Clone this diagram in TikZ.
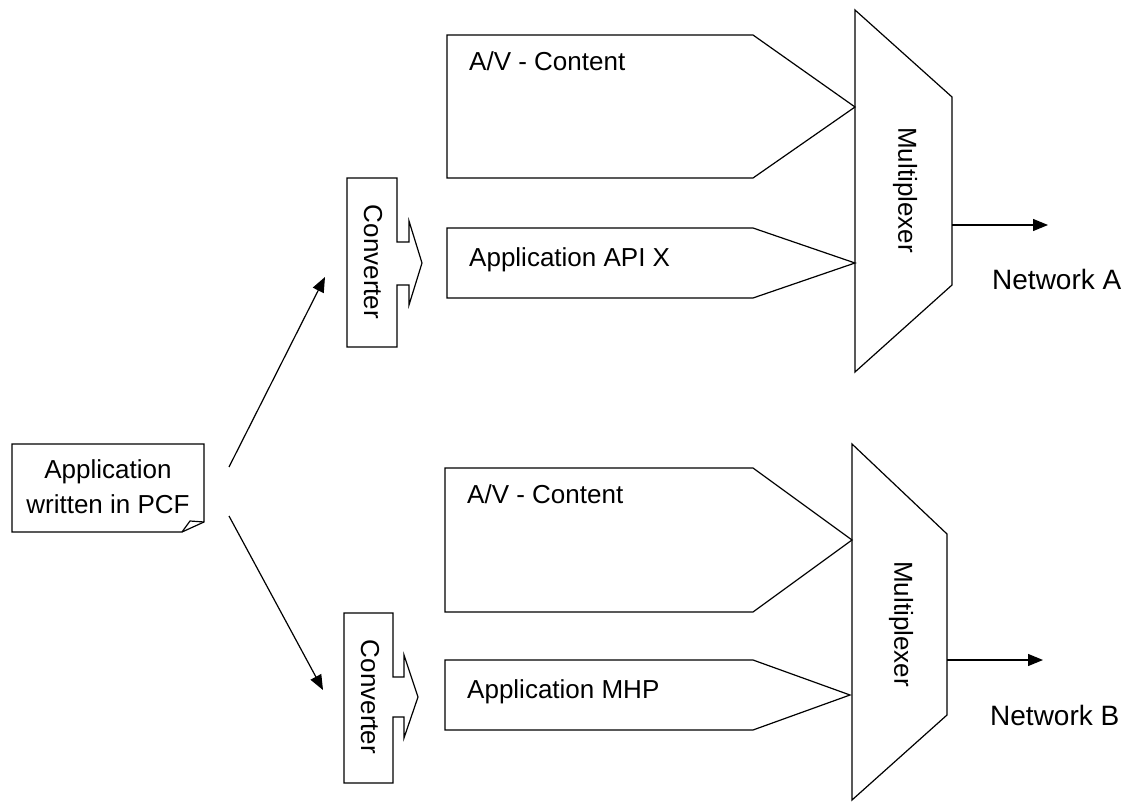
\documentclass[tikz,border=0pt]{standalone}
\usepackage{fontspec}
\setmainfont{Liberation Sans}
\usetikzlibrary{arrows.meta}
\begin{document}
\begin{tikzpicture}[x=1pt,y=-1pt,
  outline/.style={draw=black, line width=1.2pt, line join=miter},
  lbl/.style={font=\fontsize{26}{35}\selectfont, inner sep=0pt},
  netlbl/.style={font=\fontsize{28}{34}\selectfont, inner sep=0pt, anchor=west},
  arr/.style={draw=black, line width=1.2pt, -{Triangle[length=15pt,width=12pt]}}]
\useasboundingbox (0,0) rectangle (1133,802);

% source document with a curled corner
\draw[outline] (12,444) -- (204,444) -- (204,522) -- (182,532) -- (12,532) -- cycle;
\draw[outline] (182,532) -- (190,521) -- (204,522);
\node[lbl, align=center] (doc) at (108,487) {Application\\written in PCF};

% converters
\draw[outline] (347,178) -- (397,178) -- (397,242) -- (409,242) -- (409,221) -- (422,263)
  -- (409,305) -- (409,285) -- (397,285) -- (397,347) -- (347,347) -- cycle;
\node[lbl, rotate=-90] (convA) at (373,262) {Converter};

\draw[outline] (344,613) -- (393,613) -- (393,677) -- (404,677) -- (404,655) -- (418,697)
  -- (404,738) -- (404,717) -- (393,717) -- (393,783) -- (344,783) -- cycle;
\node[lbl, rotate=-90] (convB) at (370,697) {Converter};

% network A branch
\draw[outline] (447,35) -- (753,35) -- (855,107) -- (753,178) -- (447,178) -- cycle;
\node[lbl, anchor=west] (avA) at (469,61) {A/V - Content};
\draw[outline] (447,228) -- (753,228) -- (855,263) -- (753,298) -- (447,298) -- cycle;
\node[lbl, anchor=west] (appA) at (469,260) {Application API X};
\draw[outline] (855,10) -- (952,97) -- (952,285) -- (855,372) -- cycle;
\node[lbl, rotate=-90] (muxA) at (905,190) {Multiplexer};
\coordinate (muxAout) at (952,225);
\coordinate (netAend) at (1048,225);
\draw[arr] (muxAout) -- (netAend);
\node[netlbl] (netA) at (992,279) {Network A};

% network B branch
\draw[outline] (445,468) -- (753,468) -- (852,540) -- (753,612) -- (445,612) -- cycle;
\node[lbl, anchor=west] (avB) at (467,494) {A/V - Content};
\draw[outline] (445,660) -- (753,660) -- (850,695) -- (753,730) -- (445,730) -- cycle;
\node[lbl, anchor=west] (appB) at (467,692) {Application MHP};
\draw[outline] (852,444) -- (947,534) -- (947,715) -- (852,800) -- cycle;
\node[lbl, rotate=-90] (muxB) at (901,624) {Multiplexer};
\coordinate (muxBout) at (947,660);
\coordinate (netBend) at (1043,660);
\draw[arr] (muxBout) -- (netBend);
\node[netlbl] (netB) at (990,715) {Network B};

% document to converters
\coordinate (docUp) at (229,467);
\coordinate (convAin) at (325,277);
\coordinate (docDown) at (229,516);
\coordinate (convBin) at (323,690);
\draw[arr] (docUp) -- (convAin);
\draw[arr] (docDown) -- (convBin);
\end{tikzpicture}
\end{document}
